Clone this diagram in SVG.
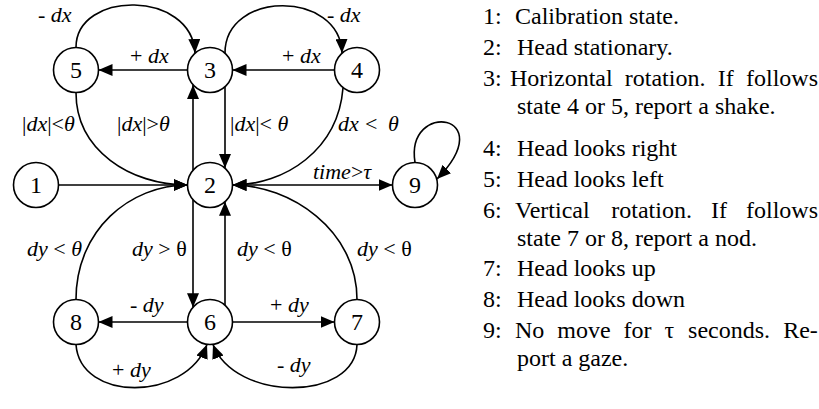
<svg xmlns="http://www.w3.org/2000/svg" width="819" height="409" viewBox="0 0 819 409">
<defs>
<marker id="ah" viewBox="0 0 14 12" refX="14" refY="6" markerWidth="14" markerHeight="12" markerUnits="userSpaceOnUse" orient="auto"><path d="M0,0 L14,6 L0,12 z" fill="#000"/></marker>
<style>
.nd circle{fill:#fff;stroke:#000;stroke-width:1.6}
.nd text{font-family:"Liberation Serif","Times New Roman",serif;font-size:24px;text-anchor:middle;fill:#000}
.cn path{fill:none;stroke:#000;stroke-width:1.6;marker-end:url(#ah)}
.lb{font-family:"Liberation Serif","Times New Roman",serif;font-size:22px;fill:#000}
.i{font-style:italic}
.lg{font-family:"Liberation Serif","Times New Roman",serif;font-size:24px;fill:#000}
</style>
</defs>
<rect width="819" height="409" fill="#fff"/>
<g id="connectors" class="cn">
<path d="M187.5,70 L98.5,70"/>
<path d="M334.5,70 L232.5,70"/>
<path d="M76,47.5 C76,-10 192,-10 195,53"/>
<path d="M225,53 C225,-10 340,-10 342,53"/>
<path d="M76,92.5 C76,150 130,185 187.5,185"/>
<path d="M343,88 C338,150 285,185 232.5,185"/>
<path d="M58.5,185 L187.5,185"/>
<path d="M232.5,185 L392.5,185"/>
<path d="M415,162.5 C405,100 502,113 437,179"/>
<path d="M76,299.5 C76,230 130,185 187.5,185"/>
<path d="M357,299.5 C357,230 290,185 232.5,185"/>
<path d="M193,170 L193,85"/>
<path d="M225,85.5 L225,168"/>
<path d="M193,199.7 L193,307.3"/>
<path d="M225,305.2 L225,201.8"/>
<path d="M187.5,322 L98.5,322"/>
<path d="M232.5,322 L334.5,322"/>
<path d="M76,344.5 C80,402 185,402 207,344.5"/>
<path d="M357,344.5 C355,402 235,402 213,344.5"/>
</g>
<g id="labels" class="lb">
<text x="38" y="22">- <tspan class="i">dx</tspan></text>
<text x="130" y="63">+ <tspan class="i">dx</tspan></text>
<text x="327" y="22">- <tspan class="i">dx</tspan></text>
<text x="282" y="63">+ <tspan class="i">dx</tspan></text>
<text x="22" y="131">|<tspan class="i">dx</tspan>|&lt;<tspan class="i">θ</tspan></text>
<text x="117" y="131">|<tspan class="i">dx</tspan>|&gt;<tspan class="i">θ</tspan></text>
<text x="230" y="131">|<tspan class="i">dx</tspan>|&lt; <tspan class="i">θ</tspan></text>
<text x="338" y="131"><tspan class="i">dx</tspan><tspan x="365">&lt;</tspan><tspan class="i" x="388">θ</tspan></text>
<text x="313" y="179"><tspan class="i">time</tspan>&gt;<tspan class="i">τ</tspan></text>
<text x="27" y="256"><tspan class="i">dy</tspan> &lt; <tspan class="i">θ</tspan></text>
<text x="132" y="256"><tspan class="i">dy</tspan> &gt; θ</text>
<text x="237" y="256"><tspan class="i">dy</tspan> &lt; θ</text>
<text x="357" y="256"><tspan class="i">dy</tspan> &lt; θ</text>
<text x="130" y="312">- <tspan class="i">dy</tspan></text>
<text x="270" y="312">+ <tspan class="i">dy</tspan></text>
<text x="112" y="377">+ <tspan class="i">dy</tspan></text>
<text x="277" y="372">- <tspan class="i">dy</tspan></text>
</g>
<g id="n1" class="nd"><circle cx="36" cy="185" r="22.5"/><text x="36" y="193">1</text></g>
<g id="n2" class="nd"><circle cx="210" cy="185" r="22.5"/><text x="210" y="193">2</text></g>
<g id="n3" class="nd"><circle cx="210" cy="70" r="22.5"/><text x="210" y="78">3</text></g>
<g id="n4" class="nd"><circle cx="357" cy="70" r="22.5"/><text x="357" y="78">4</text></g>
<g id="n5" class="nd"><circle cx="76" cy="70" r="22.5"/><text x="76" y="78">5</text></g>
<g id="n6" class="nd"><circle cx="210" cy="322" r="22.5"/><text x="210" y="330">6</text></g>
<g id="n7" class="nd"><circle cx="357" cy="322" r="22.5"/><text x="357" y="330">7</text></g>
<g id="n8" class="nd"><circle cx="76" cy="322" r="22.5"/><text x="76" y="330">8</text></g>
<g id="n9" class="nd"><circle cx="415" cy="185" r="22.5"/><text x="415" y="193">9</text></g>
<g id="legend" class="lg">
<text y="24"><tspan x="483">1:</tspan><tspan x="515">Calibration state.</tspan></text>
<text y="55"><tspan x="483">2:</tspan><tspan x="517">Head stationary.</tspan></text>
<text y="86"><tspan x="483">3:</tspan><tspan x="510">Horizontal</tspan><tspan x="624.8">rotation.</tspan><tspan x="717.7">If</tspan><tspan x="746">follows</tspan></text>
<text y="114"><tspan x="517">state 4 or 5, report a shake.</tspan></text>
<text y="156"><tspan x="483">4:</tspan><tspan x="517">Head looks right</tspan></text>
<text y="187"><tspan x="483">5:</tspan><tspan x="517">Head looks left</tspan></text>
<text y="218"><tspan x="483">6:</tspan><tspan x="515">Vertical</tspan><tspan x="611.3">rotation.</tspan><tspan x="711">If</tspan><tspan x="746">follows</tspan></text>
<text y="246"><tspan x="517">state 7 or 8, report a nod.</tspan></text>
<text y="276"><tspan x="483">7:</tspan><tspan x="517">Head looks up</tspan></text>
<text y="307"><tspan x="483">8:</tspan><tspan x="517">Head looks down</tspan></text>
<text y="338"><tspan x="483">9:</tspan><tspan x="515">No</tspan><tspan x="557.3">move</tspan><tspan x="623.6">for</tspan><tspan x="664.6">τ</tspan><tspan x="688.1">seconds.</tspan><tspan x="783.2">Re-</tspan></text>
<text y="366"><tspan x="517">port a gaze.</tspan></text>
</g>
</svg>
